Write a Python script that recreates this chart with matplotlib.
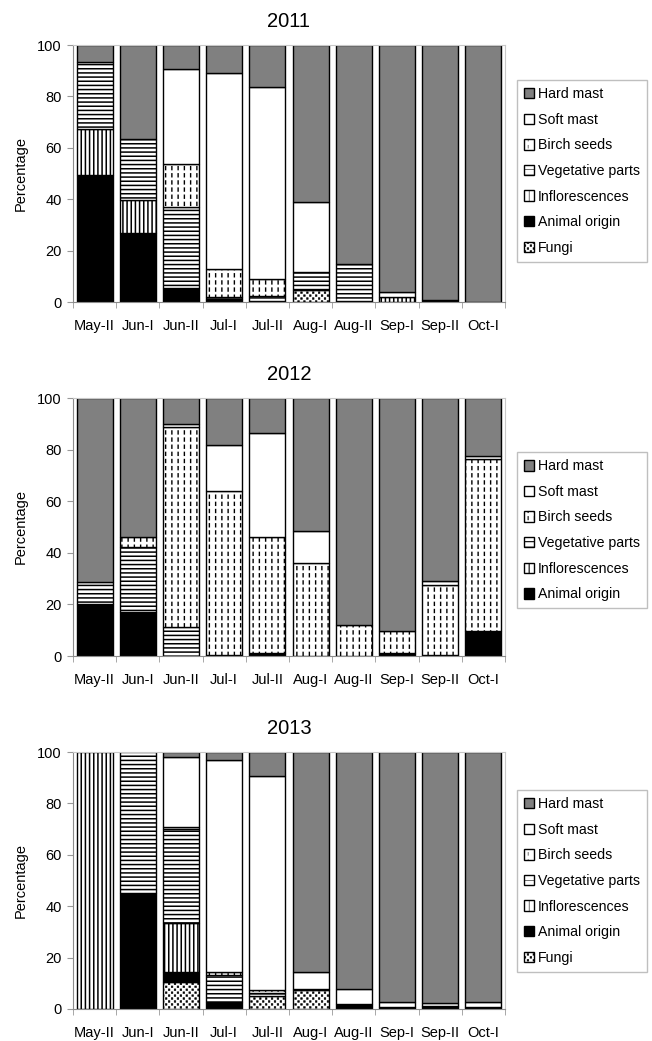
import warnings
warnings.filterwarnings("ignore")
import numpy as np
import matplotlib
matplotlib.use("Agg")
import matplotlib.pyplot as plt
import matplotlib.hatch as mhatch
from matplotlib.path import Path
from matplotlib.patches import Patch

plt.rcParams['font.family'] = ['Liberation Sans', 'DejaVu Sans']

# ---------------- data ----------------
periods = ["May-II", "Jun-I", "Jun-II", "Jul-I", "Jul-II",
           "Aug-I", "Aug-II", "Sep-I", "Sep-II", "Oct-I"]
years = ["2011", "2012", "2013"]

fungi_2011  = [0, 0, 0, 0, 0, 4.5, 0, 0, 0, 0]
animal_2011 = [49.5, 27, 5.3, 1, 0.5, 0, 0.5, 0, 0.7, 0]
infl_2011   = [17.8, 12.5, 0, 0, 0, 0, 0, 2, 0, 0]
veg_2011    = [26, 24, 31.5, 1, 2, 7.3, 14.3, 0, 0, 0]
birch_2011  = [0, 0, 16.8, 11, 6.3, 0, 0, 0, 0, 0]
soft_2011   = [0, 0, 37, 76, 75, 27.2, 0, 2, 0, 0]
hard_2011   = [6.7, 36.5, 9.4, 11, 16.2, 61, 85.2, 96, 99.3, 100]

fungi_2012  = [0, 0, 0, 0, 0, 0, 0, 0, 0, 0]
animal_2012 = [20, 17, 0, 0.5, 1, 0, 0, 1, 0.5, 9.7]
infl_2012   = [0, 0, 0, 0, 0, 0, 0, 0, 0, 0]
veg_2012    = [8.5, 25.4, 11.3, 0, 0, 0, 0, 0, 0, 0]
birch_2012  = [0, 3.6, 77.3, 63.6, 45, 36.1, 12.2, 8.6, 27.2, 66.6]
soft_2012   = [0, 0, 1.4, 17.6, 40.4, 12.5, 0, 0, 1.3, 1.4]
hard_2012   = [71.5, 54, 10, 18.3, 13.6, 51.4, 87.8, 90.4, 71, 22.3]

fungi_2013  = [0, 0, 10.7, 0, 5.2, 7.3, 0, 0, 0, 0]
animal_2013 = [0, 45, 3.7, 2.6, 0, 0, 2, 0.8, 1, 0.6]
infl_2013   = [100, 0, 19.1, 0, 0, 0, 0, 0, 0, 0]
veg_2013    = [0, 55, 36.5, 10.7, 1, 0.5, 0, 0, 0, 0]
birch_2013  = [0, 0, 1, 1.1, 1.3, 0, 0, 0, 0, 0]
soft_2013   = [0, 0, 27, 82.6, 83.3, 6.6, 5.8, 1.8, 1.5, 2]
hard_2013   = [0, 0, 2, 3, 9.2, 85.6, 92.2, 97.4, 97.5, 97.4]

components = ["Fungi", "Animal origin", "Inflorescences", "Vegetative parts",
              "Birch seeds", "Soft mast", "Hard mast"]

data = {
    "2011": [fungi_2011, animal_2011, infl_2011, veg_2011, birch_2011, soft_2011, hard_2011],
    "2012": [fungi_2012, animal_2012, infl_2012, veg_2012, birch_2012, soft_2012, hard_2012],
    "2013": [fungi_2013, animal_2013, infl_2013, veg_2013, birch_2013, soft_2013, hard_2013],
}
legend_items = {
    "2011": components,
    "2012": components[1:],
    "2013": components,
}

# ---------------- custom hatches ----------------
class VDashHatch(mhatch.HatchPatternBase):
    """short vertical dashes (birch seeds)"""
    def __init__(self, hatch, density):
        n = hatch.count('!')
        self.nx, self.ny = 16, 14
        self.num_vertices = self.nx * self.ny * 2 if n else 0

    def set_vertices_and_codes(self, vertices, codes):
        xs = (np.arange(self.nx) + 0.5) / self.nx
        ys = (np.arange(self.ny) + 0.25) / self.ny
        X, Y = np.meshgrid(xs, ys)
        X = X.ravel(); Y = Y.ravel()
        L = 0.42 / self.ny
        vertices[0::2, 0] = X
        vertices[0::2, 1] = Y
        vertices[1::2, 0] = X
        vertices[1::2, 1] = Y + L
        codes[0::2] = Path.MOVETO
        codes[1::2] = Path.LINETO


class CheckerHatch(mhatch.HatchPatternBase):
    """speckled checker (fungi)"""
    def __init__(self, hatch, density):
        n = hatch.count('#')
        self.n = 34
        idx = [(i, j) for i in range(self.n) for j in range(self.n) if (i + j) % 2 == 0]
        self.idx = idx
        self.num_vertices = len(idx) * 5 if n else 0

    def set_vertices_and_codes(self, vertices, codes):
        c = 1.0 / self.n
        s = c * 0.55
        for k, (i, j) in enumerate(self.idx):
            x0 = i * c + (c - s) / 2
            y0 = j * c + (c - s) / 2
            vertices[5 * k:5 * k + 5] = [[x0, y0], [x0 + s, y0], [x0 + s, y0 + s],
                                         [x0, y0 + s], [x0, y0]]
            codes[5 * k] = Path.MOVETO
            codes[5 * k + 1:5 * k + 4] = Path.LINETO
            codes[5 * k + 4] = Path.CLOSEPOLY


mhatch._hatch_types.append(VDashHatch)
mhatch._hatch_types.append(CheckerHatch)

styles = {
    "Fungi":            dict(facecolor="white", hatch="#", hlw=0.4),
    "Animal origin":    dict(facecolor="black", hatch=None, hlw=1.0),
    "Inflorescences":   dict(facecolor="white", hatch="||||", hlw=1.1),
    "Vegetative parts": dict(facecolor="white", hatch="----", hlw=1.1),
    "Birch seeds":      dict(facecolor="white", hatch="!", hlw=1.0),
    "Soft mast":        dict(facecolor="white", hatch=None, hlw=1.0),
    "Hard mast":        dict(facecolor="#808080", hatch=None, hlw=1.0),
}

# ---------------- figure ----------------
fig = plt.figure(figsize=(6.52, 10.41), dpi=100)
ax_left = 73 / 652
ax_width = 432 / 652
panel_px = [(45, 302), (398, 656), (752, 1009)]
legend_tops = [0.864, 0.79, 0.852]

x = np.arange(len(periods))
bar_w = 0.83

for p, yr in enumerate(years):
    top_px, bot_px = panel_px[p]
    ax = fig.add_axes([ax_left, 1 - bot_px / 1041, ax_width, (bot_px - top_px) / 1041])
    bottom = np.zeros(len(periods))
    for comp, vals in zip(components, data[yr]):
        vals = np.asarray(vals, dtype=float)
        st = styles[comp]
        mask = vals > 0
        if mask.any():
            plt.rcParams['hatch.linewidth'] = st["hlw"]
            ax.bar(x[mask], vals[mask], bottom=bottom[mask], width=bar_w,
                   facecolor=st["facecolor"], edgecolor="black", linewidth=1.0,
                   hatch=st["hatch"], zorder=2)
        bottom += vals

    ax.set_xlim(-0.5, len(periods) - 0.5)
    ax.set_ylim(0, 100)
    ax.set_yticks([0, 20, 40, 60, 80, 100])
    ax.set_xticks(x)
    ax.set_xticklabels(periods, fontsize=10.5)
    ax.set_xticks(np.arange(len(periods) + 1) - 0.5, minor=True)
    ax.tick_params(axis='x', which='major', length=0, pad=12)
    ax.tick_params(axis='x', which='minor', length=4, color='#999999')
    ax.tick_params(axis='y', length=4, color='#999999', labelsize=10.5, pad=4)
    for side in ['left', 'bottom']:
        ax.spines[side].set_color('#8c8c8c')
    for side in ['top', 'right']:
        ax.spines[side].set_color('#c8c8c8')
    ax.set_ylabel("Percentage", fontsize=10.5, labelpad=7)
    ax.set_title(yr, fontsize=14.5, pad=13)

    handles = []
    for comp in reversed(legend_items[yr]):
        st = styles[comp]
        plt.rcParams['hatch.linewidth'] = min(st["hlw"], 0.8)
        h = Patch(facecolor=st["facecolor"], edgecolor="black", linewidth=1.0,
                  hatch=("||" if comp == "Inflorescences" else
                         "---" if comp == "Vegetative parts" else st["hatch"]),
                  label=comp)
        handles.append(h)
    leg = ax.legend(handles=handles, loc='upper left',
                    bbox_to_anchor=(1.027, legend_tops[p]), borderaxespad=0,
                    fontsize=10.2, frameon=True, fancybox=False,
                    edgecolor='#b0b0b0', handlelength=0.75, handleheight=0.75,
                    handletextpad=0.25, labelspacing=0.82, borderpad=0.5)
    leg.get_frame().set_linewidth(1.0)

fig.savefig("out.png", dpi=100)
